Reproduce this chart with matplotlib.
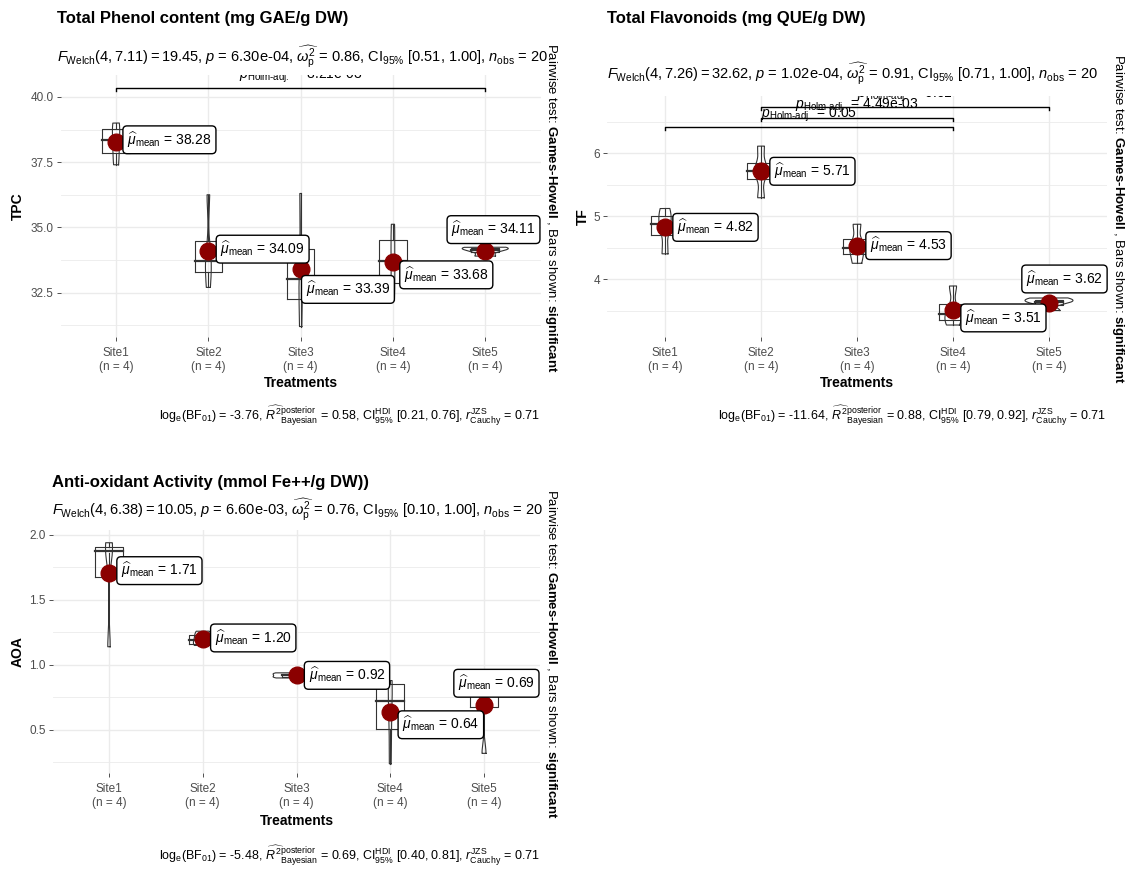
import matplotlib
matplotlib.use("Agg")
import matplotlib.pyplot as plt
import numpy as np

plt.rcParams['font.family'] = ['Liberation Sans', 'DejaVu Sans']
plt.rcParams['mathtext.fontset'] = 'custom'
plt.rcParams['mathtext.rm'] = 'Liberation Sans'
plt.rcParams['mathtext.it'] = 'Liberation Sans:italic'
plt.rcParams['mathtext.bf'] = 'Liberation Sans:bold'
plt.rcParams['mathtext.sf'] = 'Liberation Sans'

# ---------------- data ----------------
categories = ['Site1', 'Site2', 'Site3', 'Site4', 'Site5']
group_n = [4, 4, 4, 4, 4]

tpc_values = [[37.4, 38.0, 38.7, 39.0],
              [32.7, 33.5, 33.9, 36.25],
              [31.2, 32.6, 33.46, 36.3],
              [32.2, 33.1, 34.3, 35.12],
              [33.9, 34.1, 34.2, 34.24]]
tpc_means = [38.28, 34.09, 33.39, 33.68, 34.11]

tf_values = [[4.40, 4.80, 4.96, 5.12],
             [5.29, 5.68, 5.76, 6.11],
             [4.25, 4.45, 4.55, 4.87],
             [3.27, 3.38, 3.50, 3.89],
             [3.50, 3.62, 3.66, 3.70]]
tf_means = [4.82, 5.71, 4.53, 3.51, 3.62]

aoa_values = [[1.14, 1.86, 1.90, 1.94],
              [1.15, 1.17, 1.22, 1.26],
              [0.90, 0.91, 0.93, 0.94],
              [0.24, 0.60, 0.84, 0.88],
              [0.32, 0.80, 0.82, 0.82]]
aoa_means = [1.71, 1.20, 0.92, 0.64, 0.69]

# pairwise comparisons: (group a, group b, y of bracket, label)
tpc_pairs = [(1, 5, 40.34, '8.21e-03')]
tf_pairs = [(2, 5, 6.73, '0.01'), (2, 4, 6.56, '4.49e-03'), (1, 4, 6.41, '0.05')]
aoa_pairs = []

titles = ['Total Phenol content (mg GAE/g DW)',
          'Total Flavonoids (mg QUE/g DW)',
          'Anti-oxidant Activity (mmol Fe++/g DW))']
ylabels = ['TPC', 'TF', 'AOA']
subtitles = [
    r"$F_{\mathrm{Welch}}(4, 7.11) = 19.45$, $p$ = 6.30e-04, $\widehat{\omega_{\mathrm{p}}^{2}}$ = 0.86, CI$_{95\%}$ [0.51, 1.00], $n_{\mathrm{obs}}$ = 20",
    r"$F_{\mathrm{Welch}}(4, 7.26) = 32.62$, $p$ = 1.02e-04, $\widehat{\omega_{\mathrm{p}}^{2}}$ = 0.91, CI$_{95\%}$ [0.71, 1.00], $n_{\mathrm{obs}}$ = 20",
    r"$F_{\mathrm{Welch}}(4, 6.38) = 10.05$, $p$ = 6.60e-03, $\widehat{\omega_{\mathrm{p}}^{2}}$ = 0.76, CI$_{95\%}$ [0.10, 1.00], $n_{\mathrm{obs}}$ = 20",
]
captions = [
    r"log$_{\mathrm{e}}$(BF$_{01}$) = -3.76, $\widehat{R^{2}}_{\mathrm{Bayesian}}^{\mathrm{posterior}}$ = 0.58, CI$_{95\%}^{\mathrm{HDI}}$ [0.21, 0.76], $r_{\mathrm{Cauchy}}^{\mathrm{JZS}}$ = 0.71",
    r"log$_{\mathrm{e}}$(BF$_{01}$) = -11.64, $\widehat{R^{2}}_{\mathrm{Bayesian}}^{\mathrm{posterior}}$ = 0.88, CI$_{95\%}^{\mathrm{HDI}}$ [0.79, 0.92], $r_{\mathrm{Cauchy}}^{\mathrm{JZS}}$ = 0.71",
    r"log$_{\mathrm{e}}$(BF$_{01}$) = -5.48, $\widehat{R^{2}}_{\mathrm{Bayesian}}^{\mathrm{posterior}}$ = 0.69, CI$_{95\%}^{\mathrm{HDI}}$ [0.40, 0.81], $r_{\mathrm{Cauchy}}^{\mathrm{JZS}}$ = 0.71",
]
yticks = [[32.5, 35.0, 37.5, 40.0], [4, 5, 6], [0.5, 1.0, 1.5, 2.0]]
ytick_fmt = ['{:.1f}', '{:.0f}', '{:.1f}']

# ---------------- layout (pixels) ----------------
W, H = 1129, 869
fig = plt.figure(figsize=(W / 100, H / 100), dpi=100)
fig.patch.set_facecolor('white')

panels = [
    dict(l=60.7, r=540.6, t=75, b=337, ylim=(30.80, 40.84), title=(57, 18), sub=(57, 57),
         xlab_y=383, cap=(540, 416), ylab_x=18, side_x=551,
         offs=[(11, 2), (12, 2), (5, -20), (11, -13), (-34, 21)]),
    dict(l=607.4, r=1106.6, t=96, b=337, ylim=(3.08, 6.905), title=(607, 18), sub=(607, 74),
         xlab_y=383, cap=(1106, 416), ylab_x=583, side_x=1118,
         offs=[(12, 0), (13, 0), (13, 0), (12, -8), (-23, 24)]),
    dict(l=52.75, r=540.25, t=530, b=773, ylim=(0.169, 2.038), title=(52, 483), sub=(52, 510),
         xlab_y=821, cap=(540, 856), ylab_x=18, side_x=551,
         offs=[(12, 2), (12, 1), (12, 0), (12, -13), (-26, 22)]),
]
all_values = [tpc_values, tf_values, aoa_values]
all_means = [tpc_means, tf_means, aoa_means]
all_pairs = [tpc_pairs, tf_pairs, aoa_pairs]

LINE = '#333333'
GRID = '#EBEBEB'


def fx(x):
    return x / W


def fy(y):
    return 1 - y / H


def kde(vals):
    x = np.asarray(vals, dtype=float)
    n = len(x)
    sd = x.std(ddof=1)
    q75, q25 = np.percentile(x, [75, 25])
    iqr = q75 - q25
    lo = min(sd, iqr / 1.34) if iqr > 0 else sd
    bw = 0.9 * lo * n ** -0.2
    grid = np.linspace(x.min(), x.max(), 512)
    d = np.exp(-0.5 * ((grid[:, None] - x[None, :]) / bw) ** 2).sum(1) / (n * bw * np.sqrt(2 * np.pi))
    return grid, d


for k, p in enumerate(panels):
    ax = fig.add_axes([fx(p['l']), fy(p['b']), (p['r'] - p['l']) / W, (p['b'] - p['t']) / H])
    ax.set_xlim(0.4, 5.6)
    ax.set_ylim(*p['ylim'])
    for s in ax.spines.values():
        s.set_visible(False)
    pos = np.arange(1, len(categories) + 1)
    vals = all_values[k]
    means = all_means[k]

    # grid
    yt = yticks[k]
    step = yt[1] - yt[0]
    minor = [v + step / 2 for v in [yt[0] - step] + yt]
    for v in minor:
        ax.axhline(v, color=GRID, lw=0.6, zorder=0)
    for v in yt:
        ax.axhline(v, color=GRID, lw=1.0, zorder=0)
    for v in pos:
        ax.axvline(v, color=GRID, lw=1.0, zorder=0)

    # violins (area scaled)
    dens = [kde(v) for v in vals]
    dmax = max(d.max() for g, d in dens)
    for i, (g, d) in enumerate(dens):
        hw = d / dmax * 0.25
        xs = np.concatenate([pos[i] + hw, (pos[i] - hw)[::-1], [pos[i] + hw[0]]])
        ys = np.concatenate([g, g[::-1], [g[0]]])
        ax.plot(xs, ys, color=LINE, lw=0.8, zorder=2)

    # boxes
    for i, v in enumerate(vals):
        v = np.asarray(v)
        q1, med, q3 = np.percentile(v, [25, 50, 75])
        iqr = q3 - q1
        lo = v[v >= q1 - 1.5 * iqr].min()
        hi = v[v <= q3 + 1.5 * iqr].max()
        bx = [pos[i] - 0.15, pos[i] + 0.15]
        ax.plot([bx[0], bx[1], bx[1], bx[0], bx[0]], [q1, q1, q3, q3, q1], color=LINE, lw=0.8, zorder=2)
        ax.plot(bx, [med, med], color=LINE, lw=1.6, zorder=2)
        ax.plot([pos[i], pos[i]], [q3, hi], color=LINE, lw=0.8, zorder=2)
        ax.plot([pos[i], pos[i]], [lo, q1], color=LINE, lw=0.8, zorder=2)

    # means
    ax.plot(pos, means, 'o', color='#8B0000', ms=12, zorder=4, linestyle='none')
    for i, m in enumerate(means):
        dx, dy = p['offs'][i]
        ax.annotate(r"$\widehat{\mu}_{\mathrm{mean}}$ = " + f"{m:.2f}", xy=(pos[i], m),
                    xytext=(dx, dy), textcoords='offset pixels', ha='left', va='center',
                    fontsize=10, zorder=5,
                    bbox=dict(boxstyle='round,pad=0.3,rounding_size=0.3', fc='white', ec='black', lw=1.0))

    # pairwise brackets
    yr = p['ylim'][1] - p['ylim'][0]
    for a, b, yb, lab in all_pairs[k]:
        tip = yr * 0.012
        ax.plot([a, a, b, b], [yb - tip, yb, yb, yb - tip], color='black', lw=1.0, zorder=3)
        ax.text((a + b) / 2, yb + yr * 0.012, r"$p_{\mathrm{Holm‐adj.}}$ = " + lab, ha='center', va='bottom',
                fontsize=10, clip_on=True, zorder=3)

    # ticks
    ax.set_xticks(pos)
    ax.set_xticklabels([f"{c}\n(n = {n})" for c, n in zip(categories, group_n)], fontsize=8.5, color='#4D4D4D')
    ax.set_yticks(yt)
    ax.set_yticklabels([ytick_fmt[k].format(v) for v in yt], fontsize=8.5, color='#4D4D4D')
    ax.tick_params(axis='both', length=3, width=0.6, color='#333333', pad=2)
    ax.tick_params(axis='x', pad=4)

    cx = (p['l'] + p['r']) / 2
    cy = (p['t'] + p['b']) / 2
    fig.text(fx(p['title'][0]), fy(p['title'][1]), titles[k], fontsize=12, fontweight='bold', ha='left', va='center')
    fig.text(fx(p['sub'][0]), fy(p['sub'][1]), subtitles[k], fontsize=10.5, ha='left', va='center')
    fig.text(fx(cx), fy(p['xlab_y']), 'Treatments', fontsize=10, fontweight='bold', ha='center', va='center')
    fig.text(fx(p['cap'][0]), fy(p['cap'][1]), captions[k], fontsize=9, ha='right', va='center')
    fig.text(fx(p['ylab_x']), fy(cy), ylabels[k], fontsize=10, fontweight='bold', rotation=90, ha='center', va='center')
    fig.text(fx(p['side_x']), fy(cy + 2), r"Pairwise test: $\mathbf{Games‐Howell}$ , Bars shown: $\mathbf{significant}$",
             fontsize=9.5, rotation=270, ha='center', va='center')

fig.savefig('out.png', dpi=100, facecolor='white')
